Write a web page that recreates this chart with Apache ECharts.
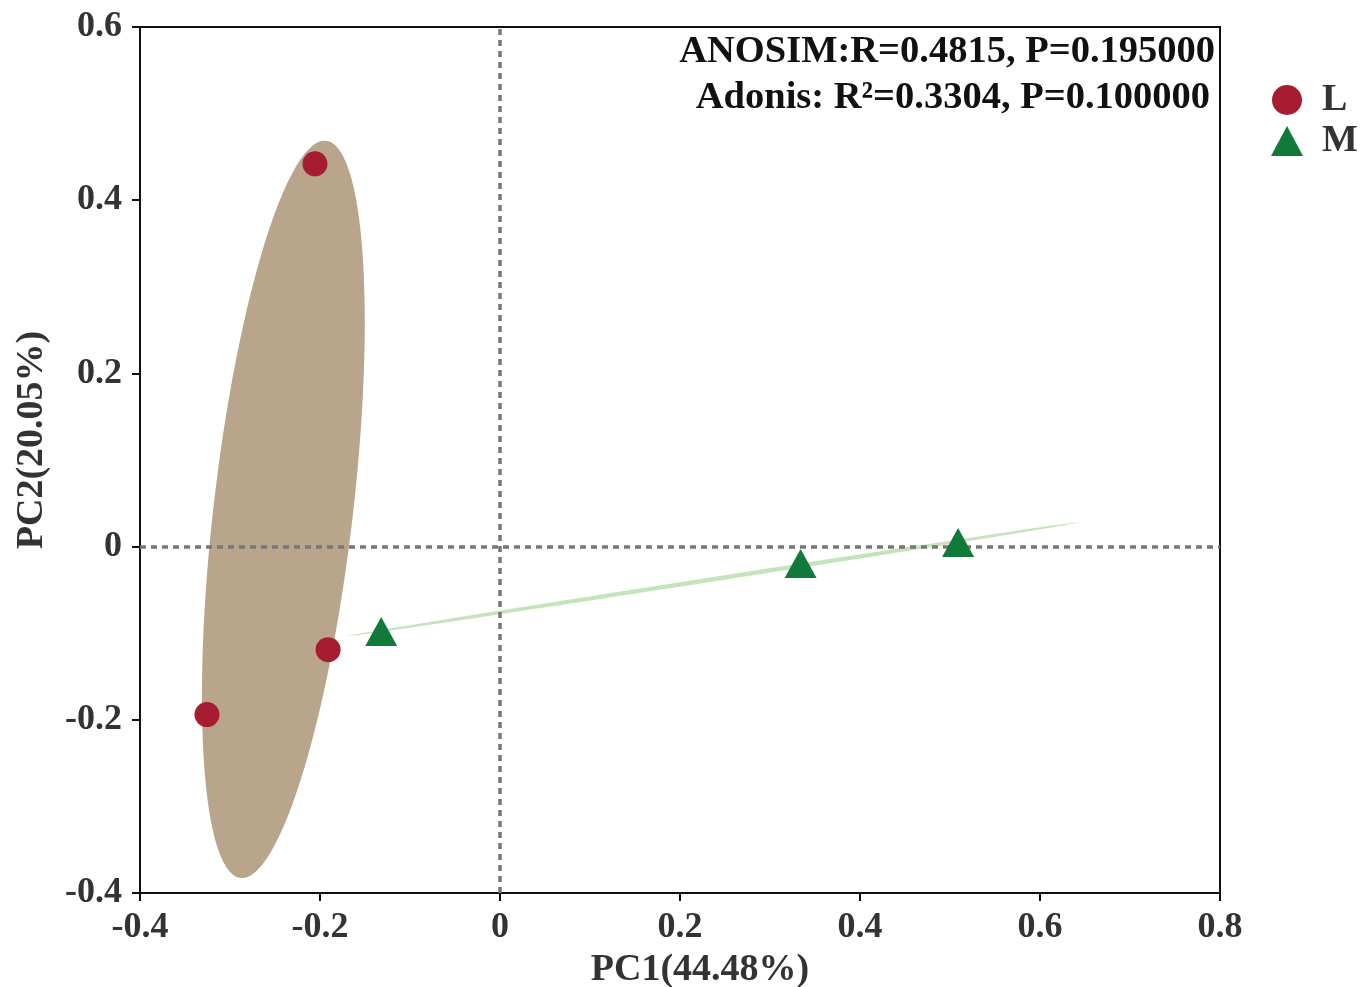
<!DOCTYPE html>
<html>
<head>
<meta charset="utf-8">
<script src="https://cdn.jsdelivr.net/npm/echarts@6/dist/echarts.min.js"></script>
<style>
  html, body { margin: 0; padding: 0; background: #fff; }
  #chart { width: 1372px; height: 987px; }
</style>
</head>
<body>
<div id="chart"></div>
<script>
// sample scores on PC1 / PC2
const groupL = [[-0.2056, 0.442], [-0.191, -0.119], [-0.3256, -0.194]];
const groupM = [[-0.132, -0.098], [0.334, -0.0196], [0.509, 0.0046]];
const xTicks = [-0.4, -0.2, 0, 0.2, 0.4, 0.6, 0.8];
const yTicks = [-0.4, -0.2, 0, 0.2, 0.4, 0.6];
const statLines = ['ANOSIM:R=0.4815, P=0.195000', 'Adonis: R\u00b2=0.3304, P=0.100000'];

const FONT = '"Liberation Serif", "Times New Roman", serif';
const ELLIPSE_SCALE = 1.225;

// confidence ellipse from the group's covariance
const ellipsePoints = (pts) => {
  const n = pts.length;
  const mx = pts.reduce((s, p) => s + p[0], 0) / n;
  const my = pts.reduce((s, p) => s + p[1], 0) / n;
  let sxx = 0, syy = 0, sxy = 0;
  pts.forEach((p) => {
    sxx += (p[0] - mx) ** 2;
    syy += (p[1] - my) ** 2;
    sxy += (p[0] - mx) * (p[1] - my);
  });
  sxx /= n - 1; syy /= n - 1; sxy /= n - 1;
  // cholesky
  const a = Math.sqrt(sxx);
  const b = sxy / a;
  const c = Math.sqrt(Math.max(syy - b * b, 0));
  const out = [];
  for (let i = 0; i < 120; i++) {
    const t = (i / 120) * Math.PI * 2;
    const u = Math.cos(t), v = Math.sin(t);
    out.push([mx + ELLIPSE_SCALE * a * u, my + ELLIPSE_SCALE * (b * u + c * v)]);
  }
  return out;
};

const ellipseSeries = (pts, color) => ({
  type: 'custom',
  silent: true,
  z: 1,
  data: [0],
  renderItem: (params, api) => ({
    type: 'polygon',
    shape: { points: ellipsePoints(pts).map((p) => api.coord(p)) },
    style: { fill: color },
  }),
});

const tickFmt = (v) => (Math.abs(v) < 1e-9 ? '0' : v.toFixed(1));

const chart = echarts.init(document.getElementById('chart'), null, { renderer: 'canvas' });

const option = {
  backgroundColor: '#fff',
  animation: false,
  grid: {
    left: 140, right: 152, top: 27, bottom: 94,
    outerBoundsMode: 'none',
    containLabel: false,
    show: true, borderColor: '#111', borderWidth: 2,
  },
  legend: {
    orient: 'vertical',
    left: 1266, top: 76,
    itemWidth: 32, itemHeight: 30, itemGap: 3,
    textStyle: {
      fontFamily: FONT, fontWeight: 'bold', fontSize: 38, color: '#333',
      padding: [0, 0, 0, 14],
    },
    data: [
      { name: 'L', icon: 'circle' },
      { name: 'M', icon: 'triangle' },
    ],
  },
  xAxis: {
    type: 'value',
    min: xTicks[0], max: xTicks[xTicks.length - 1], interval: 0.2,
    name: 'PC1(44.48%)', nameLocation: 'middle', nameGap: 56,
    nameTextStyle: {
      fontFamily: FONT, fontWeight: 'bold', fontSize: 38, color: '#333',
      padding: [0, 0, 0, 40],
    },
    axisLine: { onZero: false, lineStyle: { color: '#111', width: 2 } },
    axisTick: { show: true, length: 8, lineStyle: { color: '#111', width: 2 } },
    axisLabel: { formatter: tickFmt, margin: 17, fontFamily: FONT, fontWeight: 'bold', fontSize: 36, color: '#333' },
    splitLine: { show: false },
  },
  yAxis: {
    type: 'value',
    min: yTicks[0], max: yTicks[yTicks.length - 1], interval: 0.2,
    name: 'PC2(20.05%)', nameLocation: 'middle', nameGap: 89, nameRotate: 90,
    nameTextStyle: {
      fontFamily: FONT, fontWeight: 'bold', fontSize: 38, color: '#333',
      padding: [0, 0, 0, 40],
    },
    axisLine: { onZero: false, lineStyle: { color: '#111', width: 2 } },
    axisTick: { show: true, length: 8, lineStyle: { color: '#111', width: 2 } },
    axisLabel: { formatter: tickFmt, margin: 18, fontFamily: FONT, fontWeight: 'bold', fontSize: 36, color: '#333' },
    splitLine: { show: false },
  },
  graphic: statLines.map((txt, i) => ({
    type: 'text',
    right: i === 0 ? 157 : 162,
    top: i === 0 ? 33 : 79,
    z: 10,
    style: {
      text: txt,
      fontFamily: FONT, fontWeight: 'bold', fontSize: 38.5, fill: '#111',
    },
  })),
  series: [
    ellipseSeries(groupL, '#b8a58c'),
    ellipseSeries(groupM, '#c6e4bc'),
    {
      name: 'L',
      type: 'scatter',
      z: 5,
      symbol: 'circle',
      symbolSize: 25,
      itemStyle: { color: '#a81c31', opacity: 1 },
      data: groupL,
      markLine: {
        silent: true,
        symbol: 'none',
        z: 3,
        label: { show: false },
        lineStyle: { color: '#777', type: [6, 5], width: 3.5 },
        data: [{ xAxis: 0 }, { yAxis: 0 }],
      },
    },
    {
      name: 'M',
      type: 'scatter',
      z: 5,
      symbol: 'triangle',
      symbolSize: [32, 29],
      itemStyle: { color: '#117a3a', opacity: 1 },
      data: groupM,
    },
  ],
};

chart.setOption(option);
</script>
</body>
</html>
